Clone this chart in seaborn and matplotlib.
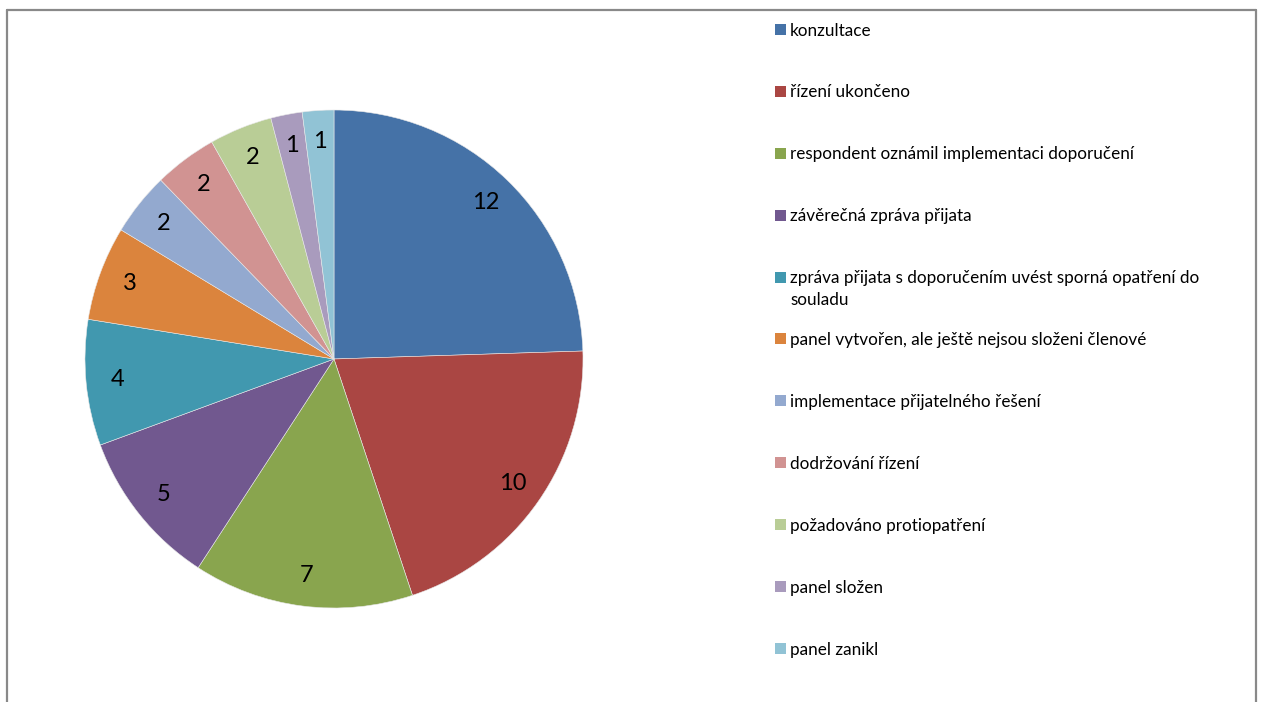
import matplotlib
matplotlib.use('Agg')
import matplotlib.pyplot as plt
import seaborn as sns
from matplotlib.patches import Rectangle
from matplotlib.lines import Line2D

# Data
categories = [
    'konzultace',
    'řízení ukončeno',
    'respondent oznámil implementaci doporučení',
    'závěrečná zpráva přijata',
    'zpráva přijata s doporučením uvést sporná opatření do\nsouladu',
    'panel vytvořen, ale ještě nejsou složeni členové',
    'implementace přijatelného řešení',
    'dodržování řízení',
    'požadováno protiopatření',
    'panel složen',
    'panel zanikl',
]
counts = [12, 10, 7, 5, 4, 3, 2, 2, 2, 1, 1]
colors = ['#4572A7', '#AA4643', '#89A54E', '#71588F', '#4198AF', '#DB843D',
          '#93A9CF', '#D19392', '#B9CD96', '#A99BBD', '#91C3D5']

sns.set_style('white')
plt.rcParams['font.family'] = ['Lato', 'DejaVu Sans']

W, H = 1262, 702
fig = plt.figure(figsize=(W / 100, H / 100), dpi=100)

# Pie placement (pixels)
cx, cy, r = 334, 359, 249
pad = 1.02
ax = fig.add_axes([(cx - r * pad) / W, (H - cy - r * pad) / H, 2 * r * pad / W, 2 * r * pad / H])
palette = sns.color_palette(colors)
wedges, texts = ax.pie(counts, colors=palette, startangle=90, counterclock=False,
                       labels=[str(c) for c in counts], labeldistance=0.875,
                       wedgeprops=dict(edgecolor='#e8e8e8', linewidth=0.4),
                       textprops=dict(fontsize=17, color='black'))
for t in texts:
    t.set_ha('center')
    t.set_va('center')
ax.set_xlim(-pad, pad)
ax.set_ylim(-pad, pad)
ax.set_aspect('equal')
ax.axis('off')

# Legend drawn as a list of entries with squares
sq = 11
for i, (lab, col) in enumerate(zip(categories, palette)):
    yc = 29.5 + 61.9 * i
    fig.patches.append(Rectangle((775 / W, (H - yc - sq / 2) / H), sq / W, sq / H,
                                 transform=fig.transFigure, facecolor=col, edgecolor='none'))
    for j, line in enumerate(lab.split('\n')):
        fig.text(790 / W, (H - yc - 6 - 22 * j) / H, line, fontsize=12.3, ha='left',
                 va='baseline', color='black')

# Outer frame (bottom edge is outside the picture)
frame_kw = dict(transform=fig.transFigure, color='#898989', linewidth=1.6)
fig.lines.append(Line2D([7 / W, 7 / W], [0, (H - 10) / H], **frame_kw))
fig.lines.append(Line2D([7 / W, 1256 / W], [(H - 10) / H, (H - 10) / H], **frame_kw))
fig.lines.append(Line2D([1256 / W, 1256 / W], [0, (H - 10) / H], **frame_kw))

fig.savefig('out.png', dpi=100, facecolor='white')
